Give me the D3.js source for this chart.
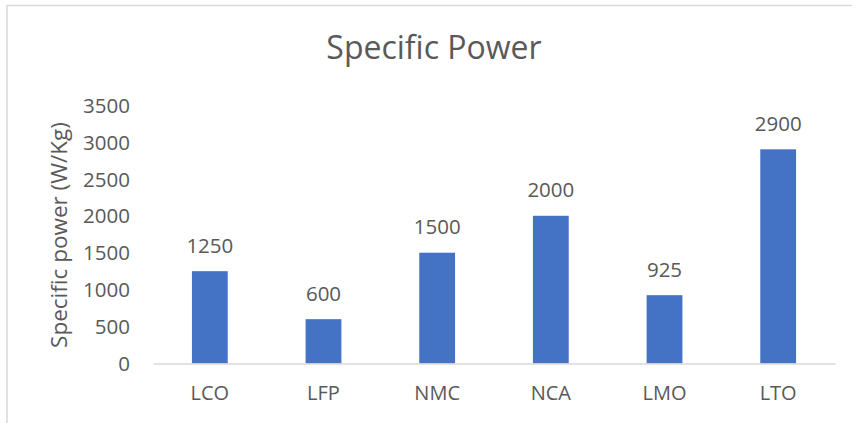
<!DOCTYPE html>
<html>
<head>
<meta charset="utf-8">
<script src="https://cdn.jsdelivr.net/npm/d3@7/dist/d3.min.js"></script>
<style>
  html, body { margin: 0; padding: 0; background: #fff; }
  svg { display: block; }
  text { font-family: "Open Sans", sans-serif; fill: #595959; }
</style>
</head>
<body>
<svg id="chart" width="852" height="423"></svg>
<script>
const categories = ["LCO", "LFP", "NMC", "NCA", "LMO", "LTO"];
const values = [1250, 600, 1500, 2000, 925, 2900];
const yTicks = [0, 500, 1000, 1500, 2000, 2500, 3000, 3500];
const title = "Specific Power";
const yTitle = "Specific power (W/Kg)";

const svg = d3.select("#chart");
const W = 852, H = 423;

// chart border (left and top visible)
svg.append("rect")
  .attr("x", 7).attr("y", 5.5)
  .attr("width", W + 10).attr("height", H + 10)
  .attr("fill", "none").attr("stroke", "#d9d9d9").attr("stroke-width", 1.5);

const x = d3.scaleBand().domain(categories).range([153, 835]).paddingInner(0.685).paddingOuter(0.3425);
const y = d3.scaleLinear().domain([0, 3500]).range([363.5, 105]);

// title
svg.append("text")
  .attr("x", 434).attr("y", 59)
  .attr("text-anchor", "middle")
  .attr("font-size", 32)
  .text(title);

// y axis (labels only)
const yAxis = d3.axisLeft(y).tickValues(yTicks).tickSize(0).tickPadding(0).tickFormat(d3.format("d"));
const gy = svg.append("g").attr("transform", "translate(130,0)").call(yAxis);
gy.select(".domain").remove();
gy.selectAll("text").attr("font-size", 20.5).attr("fill", "#595959").attr("font-family", "\"Open Sans\", sans-serif").attr("dy", "0.35em");

// y title
svg.append("text")
  .attr("transform", "translate(67,235) rotate(-90)")
  .attr("text-anchor", "middle")
  .attr("font-size", 22.5)
  .text(yTitle);

// bars
svg.append("g").selectAll("rect")
  .data(values)
  .join("rect")
  .attr("x", (d, i) => x(categories[i]))
  .attr("y", d => y(d))
  .attr("width", x.bandwidth())
  .attr("height", d => y(0) - y(d))
  .attr("fill", "#4472C4");

// x axis
const xAxis = d3.axisBottom(x).tickSize(0).tickPadding(0);
const gx = svg.append("g").attr("transform", `translate(0,${y(0)})`).call(xAxis);
gx.select(".domain").attr("stroke", "#d9d9d9").attr("stroke-width", 1.5);
gx.selectAll("text").attr("font-size", 20).attr("fill", "#595959").attr("font-family", "\"Open Sans\", sans-serif").attr("dy", "1.08em").attr("y", 15);

// data labels
svg.append("g").selectAll("text")
  .data(values)
  .join("text")
  .attr("x", (d, i) => x(categories[i]) + x.bandwidth() / 2)
  .attr("y", d => y(d) - 18.5)
  .attr("text-anchor", "middle")
  .attr("font-size", 20.5)
  .attr("fill", "#404040")
  .text(d => d);
</script>
</body>
</html>
